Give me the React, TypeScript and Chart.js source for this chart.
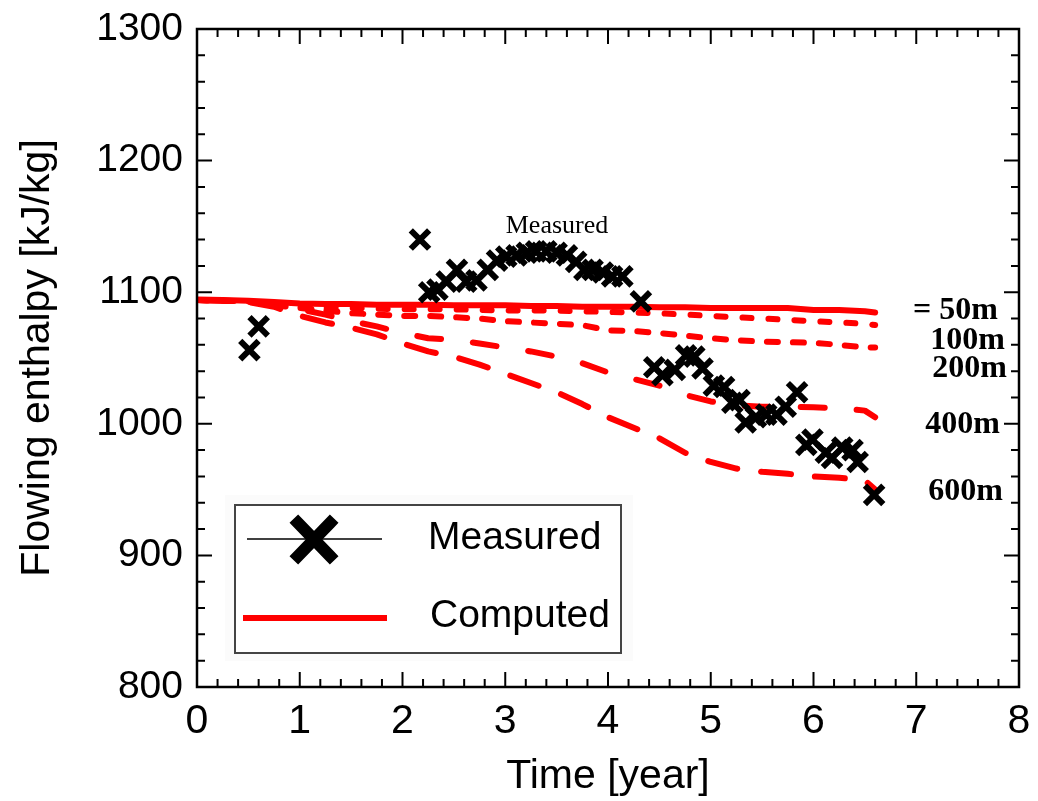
import React, { useEffect, useRef } from "react";
import { Chart, registerables } from "chart.js";

Chart.register(...registerables);

const FONT_SANS = '"Liberation Sans", Arial, Helvetica, sans-serif';
const FONT_SERIF = '"Liberation Serif", "Times New Roman", serif';

// Measured flowing enthalpy
const measuredTime = [0.51, 0.6, 2.17, 2.26, 2.34, 2.43, 2.53, 2.62, 2.72, 2.83, 2.92, 3.01, 3.11, 3.21, 3.3, 3.4, 3.5, 3.6, 3.69, 3.77, 3.85, 3.95, 4.04, 4.14, 4.32, 4.45, 4.53, 4.65, 4.76, 4.84, 4.92, 5.03, 5.13, 5.21, 5.28, 5.34, 5.44, 5.54, 5.64, 5.73, 5.84, 5.93, 5.99, 6.12, 6.18, 6.28, 6.38, 6.43, 6.59];
const measuredEnthalpy = [1056, 1074, 1140, 1100, 1102, 1108, 1117, 1108, 1109, 1117, 1124, 1127, 1128, 1130, 1131, 1131, 1130, 1128, 1123, 1117, 1117, 1115, 1112, 1112, 1093, 1043, 1037, 1041, 1052, 1051, 1042, 1029, 1028, 1016, 1018, 1001, 1005, 1007, 1007, 1013, 1024, 984, 988, 978, 974, 982, 980, 971, 946];

// Computed curves
const computedTime = [0, 0.25, 0.5, 0.75, 1, 1.25, 1.5, 1.75, 2, 2.25, 2.5, 2.75, 3, 3.25, 3.5, 3.75, 4, 4.25, 4.5, 4.75, 5, 5.25, 5.5, 5.75, 6, 6.25, 6.5, 6.6];
const computed50m = [1094.5, 1094, 1093.5, 1092.5, 1091.5, 1091, 1091, 1090.5, 1090.5, 1090.5, 1090, 1090, 1090, 1089.5, 1089.5, 1089, 1089, 1089, 1088.5, 1088.5, 1088, 1088, 1088, 1088, 1086.5, 1086.5, 1085.5, 1084.5];
const computed100m = [1094, 1093.5, 1093, 1091, 1089, 1088, 1088, 1087.5, 1087, 1087, 1087, 1086.5, 1086, 1086, 1086, 1085.5, 1085, 1084.5, 1084, 1083, 1082, 1081, 1080, 1079, 1078, 1077, 1076, 1075];
const computed200m = [1094, 1093.5, 1093, 1090, 1088, 1086, 1084, 1083, 1082, 1082, 1081, 1080, 1078, 1077, 1076, 1075, 1071, 1070.5, 1069, 1067, 1065, 1063.5, 1062.5, 1062, 1061.5, 1060, 1058, 1058];
const computed400m = [1094, 1093.5, 1093, 1091, 1087, 1083, 1078, 1074, 1069, 1065, 1064, 1061, 1058, 1055, 1051, 1046, 1039, 1034, 1029, 1022, 1017, 1014, 1013, 1013, 1012.5, 1012, 1010, 1005];
const computed600m = [1094, 1093.5, 1092.5, 1089, 1082, 1077, 1073, 1068, 1061, 1055, 1051, 1045, 1038, 1031, 1024, 1015, 1005, 997, 989, 978, 971, 966, 963.5, 962, 960, 959, 957, 950];

const curveLabels = ["= 50m", "100m", "200m", "400m", "600m"];
const curveLabelY = [1086, 1063, 1042, 999, 948];
const xTickLabels = ["0", "1", "2", "3", "4", "5", "6", "7", "8"];
const yTickLabels = ["800", "900", "1000", "1100", "1200", "1300"];

const RED = "#ff0000";

function pts(xs: number[], ys: number[]) {
  return xs.map((x, i) => ({ x, y: ys[i] }));
}

const framePlugin = {
  id: "frameTicksLegend",
  afterDraw(chart: any) {
    const ctx = chart.ctx as CanvasRenderingContext2D;
    const { left, right, top, bottom } = chart.chartArea;
    const xs = chart.scales.x;
    const ys = chart.scales.y;
    ctx.save();
    // frame
    ctx.strokeStyle = "#000";
    ctx.lineWidth = 2.5;
    ctx.strokeRect(left, top, right - left, bottom - top);
    // ticks (inward, all four sides)
    ctx.lineWidth = 2;
    ctx.beginPath();
    for (let i = 0; i <= 40; i++) {
      const v = i * 0.2;
      const px = xs.getPixelForValue(v);
      const len = i % 5 === 0 ? 15 : 8;
      ctx.moveTo(px, bottom);
      ctx.lineTo(px, bottom - len);
      ctx.moveTo(px, top);
      ctx.lineTo(px, top + len);
    }
    for (let i = 0; i <= 25; i++) {
      const v = 800 + i * 20;
      const py = ys.getPixelForValue(v);
      const len = i % 5 === 0 ? 15 : 8;
      ctx.moveTo(left, py);
      ctx.lineTo(left + len, py);
      ctx.moveTo(right, py);
      ctx.lineTo(right - len, py);
    }
    ctx.stroke();

    // annotation "Measured"
    ctx.fillStyle = "#000";
    ctx.font = `26px ${FONT_SERIF}`;
    ctx.textAlign = "center";
    ctx.textBaseline = "middle";
    ctx.fillText("Measured", 557, 226);

    // curve labels
    ctx.font = `bold 32px ${FONT_SERIF}`;
    ctx.textAlign = "right";
    const labelRight = [998, 1005, 1007, 1000, 1003];
    curveLabels.forEach((t, i) => {
      ctx.fillText(t, labelRight[i], ys.getPixelForValue(curveLabelY[i]));
    });

    // legend box
    ctx.fillStyle = "#fbfbfb";
    ctx.fillRect(225, 495, 408, 166);
    ctx.fillStyle = "#ffffff";
    ctx.fillRect(235, 505, 386, 148);
    ctx.strokeStyle = "#444";
    ctx.lineWidth = 2;
    ctx.strokeRect(235, 505, 386, 148);

    // measured entry
    ctx.strokeStyle = "#000";
    ctx.lineWidth = 1.5;
    ctx.beginPath();
    ctx.moveTo(247, 539);
    ctx.lineTo(382, 539);
    ctx.stroke();
    ctx.lineWidth = 12;
    ctx.lineCap = "square";
    ctx.beginPath();
    ctx.moveTo(298, 523);
    ctx.lineTo(330, 556);
    ctx.moveTo(330, 523);
    ctx.lineTo(298, 556);
    ctx.stroke();
    ctx.lineCap = "butt";

    // computed entry
    ctx.strokeStyle = RED;
    ctx.lineWidth = 6;
    ctx.beginPath();
    ctx.moveTo(243, 618);
    ctx.lineTo(387, 618);
    ctx.stroke();

    ctx.fillStyle = "#000";
    ctx.font = `39px ${FONT_SANS}`;
    ctx.textAlign = "left";
    ctx.textBaseline = "middle";
    ctx.fillText("Measured", 428, 538);
    ctx.fillText("Computed", 430, 616);
    ctx.restore();
  },
};

export default function App() {
  const canvasRef = useRef<HTMLCanvasElement | null>(null);

  useEffect(() => {
    const canvas = canvasRef.current;
    if (!canvas) return;
    const lineDs = (label: string, ys: number[], dash: number[], width: number) => ({
      type: "scatter" as const,
      label,
      data: pts(computedTime, ys),
      showLine: true,
      borderColor: RED,
      backgroundColor: RED,
      borderWidth: width,
      borderDash: dash,
      borderCapStyle: "round",
      borderJoinStyle: "round",
      pointRadius: 0,
      tension: 0,
      order: 2,
    });
    const chart = new Chart(canvas, {
      type: "scatter",
      data: {
        datasets: [
          lineDs("600m", computed600m, [30, 24], 6),
          lineDs("400m", computed400m, [24, 32], 6),
          lineDs("200m", computed200m, [11, 15], 6),
          lineDs("100m", computed100m, [9, 17], 6),
          lineDs("50m", computed50m, [], 6),
          {
            type: "scatter",
            label: "Measured",
            data: pts(measuredTime, measuredEnthalpy),
            showLine: false,
            pointStyle: "crossRot",
            pointRadius: 13,
            pointBorderWidth: 6,
            borderColor: "#000",
            backgroundColor: "#000",
            order: 1,
          } as any,
        ] as any,
      },
      options: {
        animation: false,
        responsive: false,
        devicePixelRatio: 1,
        layout: { padding: { top: 29, right: 18, bottom: 0, left: 0 } },
        plugins: { legend: { display: false }, tooltip: { enabled: false } },
        scales: {
          x: {
            type: "linear",
            min: 0,
            max: 8,
            grid: { display: false, drawTicks: false },
            border: { display: false },
            ticks: {
              stepSize: 1,
              padding: 0,
              color: "#000",
              maxRotation: 0,
              autoSkip: false,
              font: { family: FONT_SANS, size: 41, lineHeight: 1.71 },
              callback: (v: any) => xTickLabels[Math.round(Number(v))] ?? "",
            },
            title: {
              display: true,
              text: "Time [year]",
              color: "#000",
              font: { family: FONT_SANS, size: 41 },
              padding: { top: 0, bottom: 0 },
            },
            afterFit: (s: any) => {
              s.height = 114;
            },
          },
          y: {
            type: "linear",
            min: 800,
            max: 1300,
            grid: { display: false, drawTicks: false },
            border: { display: false },
            ticks: {
              stepSize: 100,
              padding: 14,
              color: "#000",
              font: { family: FONT_SANS, size: 39, lineHeight: 0.5 },
              callback: (v: any) => yTickLabels[Math.round((Number(v) - 800) / 100)] ?? "",
            },
            title: {
              display: true,
              text: "Flowing enthalpy [kJ/kg]",
              color: "#000",
              font: { family: FONT_SANS, size: 41 },
              padding: { top: 13, bottom: 0 },
            },
            afterFit: (s: any) => {
              s.width = 197;
            },
          },
        },
      } as any,
      plugins: [framePlugin],
    });
    return () => chart.destroy();
  }, []);

  return (
    <div style={{ position: "fixed", left: 0, top: 0, width: 1038, height: 801, background: "#fff" }}>
      <canvas ref={canvasRef} width={1038} height={801} style={{ display: "block", width: 1038, height: 801 }} />
    </div>
  );
}
